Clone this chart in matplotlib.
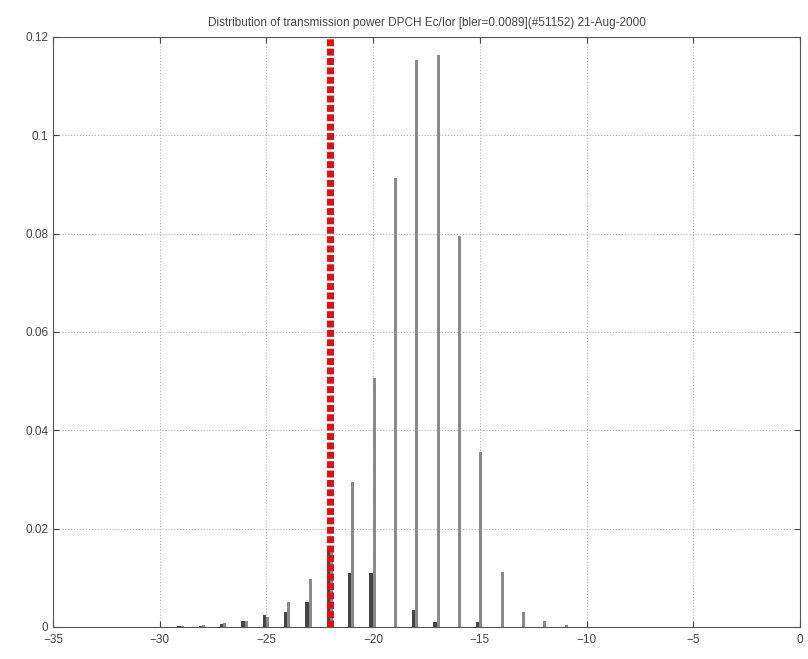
import matplotlib
matplotlib.use("Agg")
import matplotlib.pyplot as plt

# power bins in dB
power_db = [-30, -29, -28, -27, -26, -25, -24, -23, -22, -21, -20, -19, -18, -17, -16, -15, -14, -13, -12, -11, -10]
# light grey series (taller)
dist_all = [0.0, 0.0002, 0.0003, 0.0008, 0.0012, 0.002, 0.005, 0.0097, 0.0165, 0.0295, 0.0506, 0.0913,
            0.1153, 0.1163, 0.0795, 0.0356, 0.0112, 0.0031, 0.0012, 0.0004, 0.0]
# dark series
dist_err = [0.0, 0.0001, 0.0002, 0.0006, 0.0012, 0.0024, 0.003, 0.005, 0.016, 0.011, 0.011, 0.0,
            0.0035, 0.0011, 0.0, 0.001, 0.0, 0.0, 0.0, 0.0, 0.0]
target_db = -22

title = "Distribution of transmission power DPCH Ec/Ior [bler=0.0089](#51152) 21-Aug-2000"

plt.rcParams['font.family'] = ['Liberation Sans', 'DejaVu Sans']

fig = plt.figure(figsize=(8.08, 6.59), dpi=100)
ax = fig.add_axes([0.0656, 0.0486, 0.9244, 0.8954])

ax.bar([p - 0.1 for p in power_db], dist_err, width=0.16, color="#444444", zorder=3)
ax.bar([p + 0.05 for p in power_db], dist_all, width=0.14, color="#8a8a8a", zorder=2)

ax.axvline(target_db, color="#e01010", lw=5, ls=(0, (1.0, 0.35)), zorder=4)

ax.set_xlim(-35, 0)
ax.set_ylim(0, 0.12)
ax.set_xticks(range(-35, 1, 5))
ax.set_yticks([0, 0.02, 0.04, 0.06, 0.08, 0.1, 0.12])
ax.set_yticklabels(["0", "0.02", "0.04", "0.06", "0.08", "0.1", "0.12"])
ax.set_xticklabels([str(v).replace("-", "\u2212") for v in range(-35, 1, 5)])
ax.grid(True, ls=":", color="#b0b0b0", lw=0.8, zorder=0)
ax.tick_params(direction="in", length=4, labelsize=8.5, colors="#444444", top=True, right=True)
ax.tick_params(axis="x", pad=5)
for s in ax.spines.values():
    s.set_color("#555555")
    s.set_linewidth(0.8)

ax.set_title(title, fontsize=8.5, color="#444444", pad=8)

fig.savefig("out.png", dpi=100)
